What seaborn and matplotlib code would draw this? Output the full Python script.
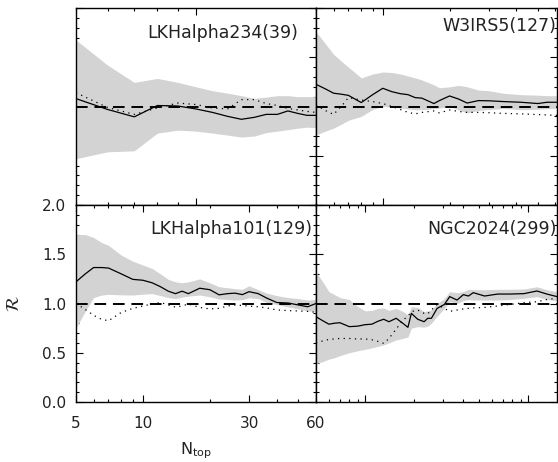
import numpy as np
import pandas as pd
import matplotlib
matplotlib.use("Agg")
import matplotlib.pyplot as plt
import matplotlib.ticker as mticker
import seaborn as sns

# ---------------- data ----------------
# LKHalpha234(39)
lk234_n = [5, 6, 7, 8, 9, 10, 11, 12, 13, 14, 15, 16, 17, 18, 19, 20]
lk234_ratio = [1.08, 0.97, 0.895, 1.01, 1.005, 0.975, 0.94, 0.90, 0.87, 0.89, 0.92, 0.92, 0.955, 0.93, 0.91, 0.91]
lk234_random = [1.14, 0.99, 0.92, 0.985, 1.035, 1.02, 0.985, 0.975, 1.07, 1.07, 1.03, 1.01, 0.98, 0.965, 0.95, 0.94]
lk234_hi = [1.675, 1.42, 1.245, 1.285, 1.245, 1.20, 1.16, 1.135, 1.11, 1.083, 1.095, 1.11, 1.11, 1.10, 1.10, 1.10]
lk234_lo = [0.47, 0.54, 0.55, 0.73, 0.76, 0.75, 0.73, 0.71, 0.69, 0.70, 0.735, 0.75, 0.765, 0.78, 0.79, 0.785]

# W3IRS5(127)
w3_n = [5, 5.5, 6, 6.5, 7, 8, 9, 10, 11, 12, 13, 14, 15, 17, 18, 20, 22, 24, 27, 30, 35, 42, 50, 55, 61]
w3_ratio = [1.225, 1.18, 1.135, 1.125, 1.113, 1.04, 1.12, 1.185, 1.15, 1.13, 1.12, 1.09, 1.085, 1.03, 1.06,
            1.107, 1.075, 1.035, 1.06, 1.058, 1.05, 1.043, 1.03, 1.043, 1.043]
w3_random = [1.015, 0.96, 0.92, 1.0, 1.09, 1.066, 1.05, 1.03, 1.0, 0.97, 0.94, 0.925, 0.94, 0.955, 0.935,
             0.965, 0.95, 0.94, 0.94, 0.937, 0.93, 0.925, 0.918, 0.914, 0.91]
w3_hi = [1.76, 1.64, 1.53, 1.46, 1.40, 1.29, 1.33, 1.35, 1.345, 1.33, 1.31, 1.29, 1.27, 1.22, 1.19,
         1.20, 1.215, 1.20, 1.167, 1.16, 1.134, 1.12, 1.115, 1.11, 1.11]
w3_lo = [0.71, 0.75, 0.78, 0.82, 0.86, 0.90, 0.97, 1.0, 0.995, 0.985, 0.975, 0.967, 0.968, 0.978, 0.985,
         1.0, 0.965, 0.935, 0.96, 0.97, 0.98, 0.968, 0.972, 0.978, 0.98]

# LKHalpha101(129)
lk101_n = [5, 5.5, 6, 6.5, 7, 8, 9, 10, 11, 12, 13, 14, 15, 16, 18, 20, 22, 24, 26, 28, 30, 33, 36, 40, 45, 50, 55, 60]
lk101_ratio = [1.22, 1.30, 1.365, 1.365, 1.36, 1.30, 1.245, 1.236, 1.21, 1.17, 1.125, 1.10, 1.125, 1.10, 1.155,
               1.14, 1.088, 1.10, 1.105, 1.09, 1.12, 1.10, 1.055, 1.01, 1.005, 0.985, 0.967, 1.0]
lk101_random = [1.0, 0.94, 0.88, 0.84, 0.825, 0.91, 0.95, 0.975, 0.995, 1.01, 0.985, 0.963, 0.975, 0.995, 0.96,
                0.945, 0.951, 0.975, 0.985, 0.98, 0.973, 0.967, 0.955, 0.935, 0.928, 0.924, 0.92, 0.91]
lk101_hi = [1.70, 1.70, 1.67, 1.62, 1.59, 1.49, 1.43, 1.39, 1.355, 1.30, 1.245, 1.22, 1.21, 1.22, 1.25,
            1.21, 1.17, 1.16, 1.15, 1.145, 1.18, 1.14, 1.105, 1.08, 1.06, 1.05, 1.035, 1.04]
lk101_lo = [0.75, 0.92, 1.06, 1.085, 1.093, 1.088, 1.086, 1.095, 1.10, 1.08, 1.06, 1.05, 1.065, 1.075, 1.086,
            1.068, 1.046, 1.04, 1.035, 1.04, 1.058, 1.05, 1.01, 0.99, 0.965, 0.945, 0.925, 0.92]

# NGC2024(299)
ngc_n = [5, 5.5, 6, 6.5, 7, 8, 9, 10, 11, 12, 13, 14, 15.5, 17, 18.3, 19.2, 21, 23, 24.2, 25.5, 27.6, 30.6,
         33, 36.6, 40, 43, 46, 54, 65, 77, 94, 113, 130, 150]
ngc_ratio = [0.866, 0.825, 0.79, 0.80, 0.805, 0.765, 0.77, 0.785, 0.79, 0.82, 0.84, 0.815, 0.85, 0.80, 0.758,
             0.90, 0.84, 0.815, 0.85, 0.85, 0.95, 0.99, 1.07, 1.035, 1.09, 1.076, 1.11, 1.076, 1.096, 1.096,
             1.10, 1.127, 1.096, 1.07]
ngc_random = [0.60, 0.62, 0.635, 0.64, 0.645, 0.645, 0.64, 0.64, 0.632, 0.615, 0.595, 0.645, 0.74, 0.83, 0.87,
              0.917, 0.934, 0.90, 0.895, 0.934, 0.99, 0.95, 0.92, 0.934, 0.945, 0.95, 0.955, 0.96, 0.975,
              0.99, 1.008, 1.018, 1.04, 1.053]
ngc_hi = [1.32, 1.22, 1.12, 1.09, 1.06, 1.04, 0.97, 0.925, 0.93, 0.95, 0.955, 0.93, 0.95, 0.92, 0.885,
          0.968, 0.96, 0.917, 0.925, 0.935, 1.0, 1.05, 1.12, 1.11, 1.12, 1.144, 1.14, 1.14, 1.144, 1.144,
          1.147, 1.17, 1.14, 1.12]
ngc_lo = [0.39, 0.41, 0.435, 0.45, 0.47, 0.50, 0.52, 0.535, 0.55, 0.565, 0.58, 0.60, 0.63, 0.645, 0.66,
          0.75, 0.765, 0.76, 0.77, 0.80, 0.87, 0.95, 1.02, 1.0, 1.03, 1.04, 1.035, 1.035, 1.035, 1.04,
          1.053, 1.07, 1.04, 1.028]

titles = ["LKHalpha234(39)", "W3IRS5(127)", "LKHalpha101(129)", "NGC2024(299)"]
xmax = [20, 61, 60, 150]
bl_ticks = [5, 10, 30, 60]
bl_ticklabels = ["5", "10", "30", "60"]
y_ticks = [0.0, 0.5, 1.0, 1.5, 2.0]
y_ticklabels = ["0.0", "0.5", "1.0", "1.5", "2.0"]

panels = [
    (lk234_n, lk234_ratio, lk234_random, lk234_hi, lk234_lo),
    (w3_n, w3_ratio, w3_random, w3_hi, w3_lo),
    (lk101_n, lk101_ratio, lk101_random, lk101_hi, lk101_lo),
    (ngc_n, ngc_ratio, ngc_random, ngc_hi, ngc_lo),
]

# ---------------- figure ----------------
sns.set_style("ticks")
plt.rcParams["font.family"] = ["DejaVu Sans"]
plt.rcParams["axes.linewidth"] = 1.0
plt.rcParams["text.color"] = "#222222"
plt.rcParams["xtick.color"] = "black"
plt.rcParams["ytick.color"] = "black"
plt.rcParams["xtick.labelcolor"] = "#222222"
plt.rcParams["ytick.labelcolor"] = "#222222"
plt.rcParams["axes.labelcolor"] = "#222222"

W, H = 558, 462
fig = plt.figure(figsize=(W / 100, H / 100), dpi=100)

boxes = [
    (76, 8, 240, 197),
    (316, 8, 241, 197),
    (76, 205, 240, 197),
    (316, 205, 241, 197),
]
title_pos = [(0.925, 0.873), (0.998, 0.91), (0.983, 0.878), (0.998, 0.878)]

axes = []
for i, (x0, y0, w, h) in enumerate(boxes):
    ax = fig.add_axes([x0 / W, 1 - (y0 + h) / H, w / W, h / H])
    axes.append(ax)
    n, ratio, rnd, hi, lo = panels[i]
    ax.set_xscale("log")
    ax.fill_between(n, lo, hi, color="#d3d3d3", linewidth=0, zorder=1)
    df = pd.DataFrame({"n": n, "ratio": ratio, "random": rnd})
    sns.lineplot(data=df, x="n", y="ratio", ax=ax, color="black", linewidth=0.9,
                 estimator=None, sort=False, zorder=3)
    sns.lineplot(data=df, x="n", y="random", ax=ax, color="black", linewidth=0.9,
                 linestyle=(0, (1, 3.5)), estimator=None, sort=False, zorder=3)
    ax.axhline(1.0, color="black", linewidth=1.4, linestyle=(0, (6, 3.5)), zorder=4)
    ax.set_xlim(5, xmax[i])
    ax.set_ylim(0, 2.0)
    ax.set_xlabel("")
    ax.set_ylabel("")

    ax.yaxis.set_major_locator(mticker.FixedLocator(y_ticks))
    ax.yaxis.set_minor_locator(mticker.MultipleLocator(0.1))
    if i == 2:
        ax.xaxis.set_major_locator(mticker.FixedLocator(bl_ticks))
        ax.xaxis.set_major_formatter(mticker.FixedFormatter(bl_ticklabels))
        ax.xaxis.set_minor_locator(mticker.LogLocator(base=10, subs=np.arange(2, 10)))
        ax.xaxis.set_minor_formatter(mticker.NullFormatter())
        ax.yaxis.set_major_formatter(mticker.FixedFormatter(y_ticklabels))
    else:
        ax.xaxis.set_major_locator(mticker.LogLocator(base=10, subs=(1.0,)))
        ax.xaxis.set_minor_locator(mticker.LogLocator(base=10, subs=np.arange(2, 10)))
        ax.xaxis.set_major_formatter(mticker.NullFormatter())
        ax.xaxis.set_minor_formatter(mticker.NullFormatter())
        ax.yaxis.set_major_formatter(mticker.NullFormatter())
    ax.tick_params(which="both", direction="in", top=True, right=True,
                   bottom=True, left=True, width=0.8, labelsize=11)
    ax.tick_params(axis="x", which="both", pad=10)
    ax.tick_params(axis="y", which="both", pad=7)
    ax.tick_params(which="major", length=5)
    ax.tick_params(which="minor", length=2.5)
    ax.text(title_pos[i][0], title_pos[i][1], titles[i], transform=ax.transAxes,
            ha="right", va="center", fontsize=12.5, zorder=5)
    for s in ax.spines.values():
        s.set_color("black")
        s.set_zorder(6)

ax_bl = axes[2]
ax_bl.set_xlabel(r"N$_{\mathrm{top}}$", fontsize=11.5, labelpad=7)
ax_bl.set_ylabel(r"$\mathcal{R}$", fontsize=13, rotation=90, labelpad=14)

fig.savefig("out.png", dpi=100)
